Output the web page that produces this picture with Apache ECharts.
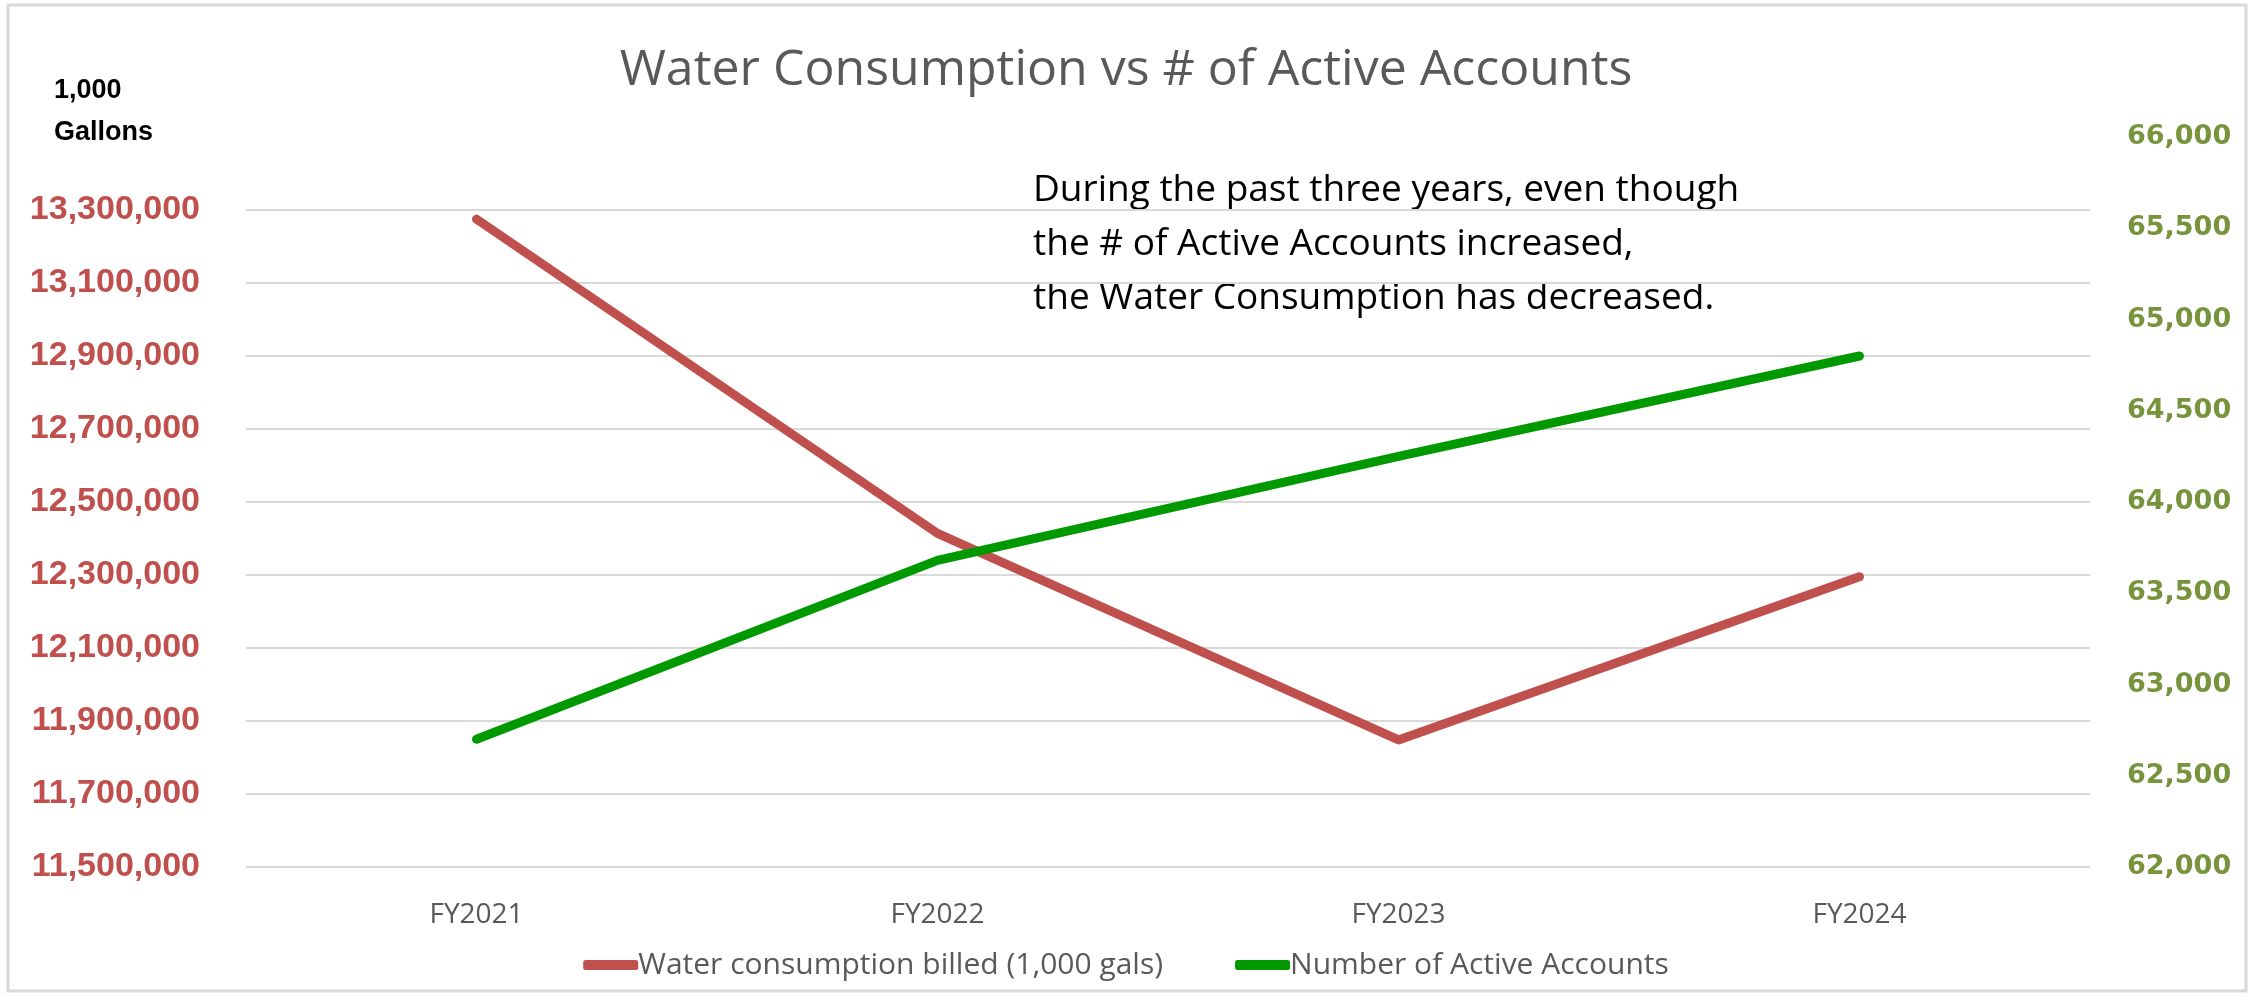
<!DOCTYPE html>
<html>
<head>
<meta charset="utf-8">
<title>Water Consumption vs # of Active Accounts</title>
<script src="https://cdn.jsdelivr.net/npm/echarts@6/dist/echarts.min.js"></script>
<style>
  html, body {margin: 0; padding: 0; background: #fff;}
  #r-canvas {width: 2252px; height: 996px;}
</style>
</head>
<body>
<div id="r-canvas"></div>
<script>
var categories = ['FY2021', 'FY2022', 'FY2023', 'FY2024']
var waterBilled = [13275000, 12414000, 11848000, 12295000]     // 1,000 gals
var activeAccounts = [62700, 63680, 64250, 64800]
var seriesNames = ['Water consumption billed (1,000 gals)', 'Number of Active Accounts']
var noteLines = [
  'During the past three years, even though',
  'the # of Active Accounts increased,',
  'the Water Consumption has decreased.'
]

var RED = '#C0504D'
var GREEN = '#009900'
var OLIVE = '#77933C'
var GREY = '#595959'

var myChart = echarts.init(document.getElementById('r-canvas'))

// gridline colours, last one (13,500,000) hidden
var gridColors = []
for (var i = 0; i < 10; i++) gridColors.push('#d9d9d9')
gridColors.push('rgba(0,0,0,0)')

var option = {
  animation: false,
  backgroundColor: '#fff',
  title: {
    text: 'Water Consumption vs # of Active Accounts',
    left: 'center',
    top: 46,
    padding: 0,
    textStyle: {
      color: GREY,
      fontFamily: 'Open Sans',
      fontWeight: 'normal',
      fontSize: 50
    }
  },
  legend: {
    data: seriesNames,
    left: 'center',
    top: 942,
    icon: 'roundRect',
    itemWidth: 55,
    itemHeight: 10,
    itemGap: 72,
    textStyle: {
      color: GREY,
      fontFamily: 'Open Sans',
      fontSize: 30,
      lineHeight: 36,
      padding: [0, 0, 0, -5]
    }
  },
  grid: {
    left: 246,
    right: 162,
    top: 137,
    bottom: 129,
    containLabel: false,
    outerBoundsMode: 'none'
  },
  xAxis: {
    type: 'category',
    data: categories,
    boundaryGap: true,
    axisLine: {show: false},
    axisTick: {show: false},
    axisLabel: {
      color: GREY,
      fontFamily: 'Open Sans',
      fontSize: 28,
      margin: 34
    }
  },
  yAxis: [{
    type: 'value',
    min: 11500000,
    max: 13500000,
    interval: 200000,
    axisLine: {show: false},
    axisTick: {show: false},
    splitLine: {
      show: true,
      showMaxLine: false,
      lineStyle: {color: gridColors, width: 2}
    },
    axisLabel: {
      showMaxLabel: false,
      color: RED,
      fontFamily: 'Liberation Sans',
      fontWeight: 'bold',
      fontSize: 34,
      margin: 46,
      formatter: function (v) { return v.toLocaleString('en-US') }
    }
  }, {
    type: 'value',
    min: 62000,
    max: 66000,
    interval: 500,
    position: 'right',
    axisLine: {show: false},
    axisTick: {show: false},
    splitLine: {show: false},
    axisLabel: {
      color: OLIVE,
      fontFamily: 'DejaVu Sans',
      fontWeight: 'bold',
      fontSize: 27,
      margin: 37,
      formatter: function (v) { return v.toLocaleString('en-US') }
    }
  }],
  series: [{
    name: seriesNames[0],
    type: 'line',
    yAxisIndex: 0,
    data: waterBilled,
    symbol: 'none',
    itemStyle: {color: RED},
    lineStyle: {color: RED, width: 9, cap: 'round', join: 'round'}
  }, {
    name: seriesNames[1],
    type: 'line',
    yAxisIndex: 1,
    data: activeAccounts,
    symbol: 'none',
    itemStyle: {color: GREEN},
    lineStyle: {color: GREEN, width: 9, cap: 'round', join: 'round'}
  }],
  graphic: [{
    type: 'rect',
    shape: {x: 8, y: 5, width: 2238, height: 986},
    style: {fill: 'none', stroke: '#d9d9d9', lineWidth: 3},
    silent: true
  }, {
    type: 'text',
    left: 54,
    top: 70,
    style: {
      text: '1,000\nGallons',
      fill: '#000',
      font: 'bold 27px "Liberation Sans"',
      lineHeight: 42
    }
  }, {
    type: 'text',
    left: 1033,
    top: 163,
    style: {
      text: noteLines.join('\n'),
      fill: '#000',
      font: '37px "Open Sans"',
      lineHeight: 54
    }
  }]
}

myChart.setOption(option)
</script>
</body>
</html>
